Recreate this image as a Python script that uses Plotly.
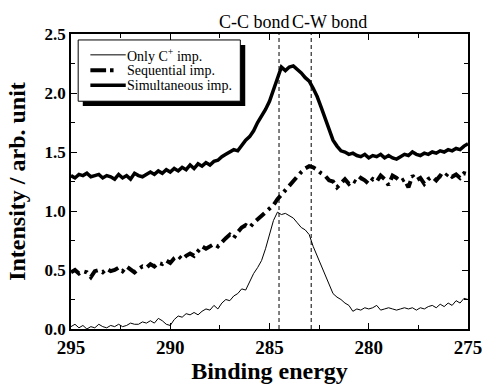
import plotly.graph_objects as go

# Intensity values, sampled every 0.2 eV from 295.0 down to 275.0 eV
only_c = [0.02, 0.04, 0.01, 0.03, 0.00, 0.02, 0.01, 0.04, 0.02, 0.01,
          0.03, 0.02, 0.04, 0.02, 0.03, 0.05, 0.04, 0.04, 0.06, 0.05,
          0.07, 0.05, 0.09, 0.07, 0.04, 0.03, 0.08, 0.11, 0.10, 0.13,
          0.12, 0.14, 0.12, 0.15, 0.17, 0.16, 0.20, 0.17, 0.22, 0.25,
          0.24, 0.28, 0.30, 0.34, 0.33, 0.40, 0.47, 0.52, 0.58, 0.68,
          0.80, 0.92, 0.99, 0.97, 0.98, 0.96, 0.94, 0.90, 0.86, 0.84,
          0.80, 0.70, 0.62, 0.54, 0.47, 0.38, 0.30, 0.27, 0.25, 0.22,
          0.20, 0.15, 0.17, 0.16, 0.18, 0.17, 0.18, 0.20, 0.16, 0.17,
          0.18, 0.17, 0.16, 0.17, 0.18, 0.17, 0.18, 0.16, 0.18, 0.17,
          0.19, 0.20, 0.18, 0.21, 0.19, 0.22, 0.20, 0.24, 0.22, 0.26,
          0.25]

sequential = [0.48, 0.50, 0.47, 0.49, 0.48, 0.44, 0.49, 0.50, 0.48, 0.51,
              0.49, 0.50, 0.52, 0.49, 0.53, 0.50, 0.48, 0.51, 0.53, 0.52,
              0.55, 0.53, 0.56, 0.55, 0.58, 0.56, 0.60, 0.62, 0.59, 0.62,
              0.64, 0.62, 0.66, 0.70, 0.68, 0.70, 0.72, 0.70, 0.74, 0.77,
              0.80, 0.77, 0.82, 0.86, 0.88, 0.86, 0.90, 0.93, 0.95, 0.98,
              1.02, 1.05, 1.10, 1.14, 1.18, 1.22, 1.26, 1.30, 1.33, 1.36,
              1.38, 1.37, 1.35, 1.32, 1.30, 1.26, 1.25, 1.20, 1.24, 1.27,
              1.23, 1.26, 1.24, 1.28, 1.26, 1.23, 1.27, 1.25, 1.30, 1.27,
              1.22, 1.30, 1.28, 1.25, 1.27, 1.20, 1.30, 1.26, 1.28, 1.23,
              1.27, 1.29, 1.26, 1.30, 1.28, 1.32, 1.29, 1.31, 1.28, 1.32,
              1.31]

simultaneous = [1.30, 1.28, 1.31, 1.30, 1.32, 1.29, 1.30, 1.31, 1.28, 1.30,
                1.29, 1.27, 1.31, 1.28, 1.30, 1.27, 1.32, 1.30, 1.29, 1.31,
                1.33, 1.31, 1.34, 1.32, 1.35, 1.33, 1.36, 1.34, 1.37, 1.35,
                1.39, 1.36, 1.40, 1.38, 1.41, 1.39, 1.42, 1.43, 1.46, 1.48,
                1.50, 1.52, 1.51, 1.56, 1.60, 1.63, 1.68, 1.75, 1.80, 1.86,
                1.93, 2.02, 2.12, 2.22, 2.19, 2.22, 2.23, 2.20, 2.17, 2.13,
                2.10, 2.04, 1.97, 1.88, 1.78, 1.68, 1.60, 1.55, 1.51, 1.50,
                1.48, 1.49, 1.47, 1.46, 1.48, 1.45, 1.47, 1.46, 1.48, 1.45,
                1.47, 1.45, 1.44, 1.46, 1.48, 1.47, 1.50, 1.48, 1.47, 1.49,
                1.48, 1.50, 1.49, 1.51, 1.50, 1.52, 1.51, 1.53, 1.52, 1.55,
                1.57]

energy = [round(295.0 - 0.2 * i, 1) for i in range(len(only_c))]

series_names = ["Only C<sup>+</sup> imp.", "Sequential imp.", "Simultaneous imp."]

bond_positions = [284.52, 282.9]
bond_labels = ["C-C bond", "C-W bond"]
bond_label_x = [287.65, 283.95]   # left edge of each label

x_ticks = [295, 290, 285, 280, 275]
y_ticks = [0.0, 0.5, 1.0, 1.5, 2.0, 2.5]

FONT = "Liberation Serif"

styles = [dict(color="black", width=1),
          dict(color="black", width=4, dash="11px,5px,3px,5px"),
          dict(color="black", width=3.5)]

fig = go.Figure()
for yv, nm, st in zip([only_c, sequential, simultaneous], series_names, styles):
    fig.add_trace(go.Scatter(x=energy, y=yv, mode="lines", name=nm, line=st, showlegend=False))

for xp in bond_positions:
    fig.add_shape(type="line", xref="x", yref="y", x0=xp, x1=xp, y0=0, y1=2.5,
                  line=dict(color="black", width=1, dash="4px,3px"), layer="above")

for xl, lab in zip(bond_label_x, bond_labels):
    fig.add_annotation(x=xl, y=1.0415, xref="x", yref="paper", text=lab, showarrow=False,
                       font=dict(family=FONT, size=18, color="black"),
                       xanchor="left", yanchor="middle")

# ---- legend box (drawn with shapes + text) ----
fig.add_shape(type="rect", xref="paper", yref="paper",
              x0=0.0297, x1=0.4389, y0=0.7559, y1=0.963,
              fillcolor="black", line=dict(width=0), layer="above")
fig.add_shape(type="rect", xref="paper", yref="paper",
              x0=0.0181, x1=0.4265, y0=0.7721, y1=0.9798,
              fillcolor="white", line=dict(color="black", width=1), layer="above")
row_y = [0.9293, 0.8771, 0.8266]
# sample lines
fig.add_shape(type="line", xref="paper", yref="paper", x0=0.0488, x1=0.1379,
              y0=row_y[0], y1=row_y[0], line=dict(color="black", width=1), layer="above")
fig.add_shape(type="line", xref="paper", yref="paper", x0=0.0488, x1=0.0884,
              y0=row_y[1], y1=row_y[1], line=dict(color="black", width=4), layer="above")
fig.add_shape(type="line", xref="paper", yref="paper", x0=0.0983, x1=0.1072,
              y0=row_y[1], y1=row_y[1], line=dict(color="black", width=4), layer="above")
fig.add_shape(type="line", xref="paper", yref="paper", x0=0.0488, x1=0.1379,
              y0=row_y[2], y1=row_y[2], line=dict(color="black", width=3.5), layer="above")
for ry, nm in zip(row_y, series_names):
    fig.add_annotation(x=0.1403, y=ry, xref="paper", yref="paper", text=nm, showarrow=False,
                       font=dict(family=FONT, size=14, color="black"),
                       xanchor="left", yanchor="middle", xshift=-2)

axis_common = dict(showline=True, linecolor="black", linewidth=1.5, mirror="allticks",
                   ticks="inside", ticklen=6, tickwidth=1, tickcolor="black",
                   showgrid=False, zeroline=False)

fig.update_xaxes(range=[295, 275], tickvals=x_ticks, ticktext=[str(v) for v in x_ticks],
                 tickfont=dict(family=FONT, size=19, color="black", weight="bold"),
                 minor=dict(ticks="inside", dtick=2.5, ticklen=4, tickcolor="black", showgrid=False),
                 title=dict(text="Binding energy", standoff=4,
                            font=dict(family=FONT, size=24, color="black", weight="bold")),
                 **axis_common)
fig.update_yaxes(range=[0, 2.5], tickvals=y_ticks, ticktext=[f"{v:.1f}" for v in y_ticks],
                 tickfont=dict(family=FONT, size=17, color="black", weight="bold"),
                 minor=dict(ticks="inside", dtick=0.25, ticklen=4, tickcolor="black", showgrid=False),
                 title=dict(text="Intensity / arb. unit", standoff=12,
                            font=dict(family=FONT, size=24, color="black", weight="bold")),
                 **axis_common)

fig.update_layout(
    width=494, height=390,
    margin=dict(l=71, r=19, t=34, b=59),
    paper_bgcolor="white", plot_bgcolor="white",
    showlegend=False,
    font=dict(family=FONT, color="black"),
)

fig.write_html("out.html")
